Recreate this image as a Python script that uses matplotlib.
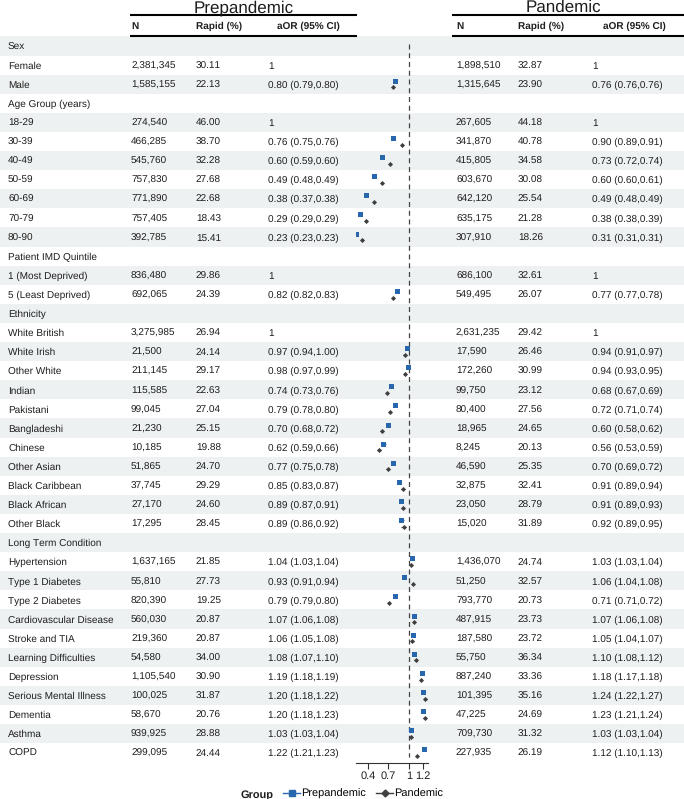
import matplotlib.pyplot as plt
from matplotlib.patches import Rectangle
from matplotlib.lines import Line2D
import numpy as np

plt.rcParams['font.family'] = ['Liberation Sans', 'DejaVu Sans']
plt.rcParams['text.hinting'] = 'no_hinting'
plt.rcParams['text.hinting_factor'] = 1

# table rows (None = group header row)
labels = ["Sex", "Female", "Male",
          "Age Group (years)", "18-29", "30-39", "40-49", "50-59", "60-69", "70-79", "80-90",
          "Patient IMD Quintile", "1 (Most Deprived)", "5 (Least Deprived)",
          "Ethnicity", "White British", "White Irish", "Other White", "Indian", "Pakistani",
          "Bangladeshi", "Chinese", "Other Asian", "Black Caribbean", "Black African", "Other Black",
          "Long Term Condition", "Hypertension", "Type 1 Diabetes", "Type 2 Diabetes",
          "Cardiovascular Disease", "Stroke and TIA", "Learning Difficulties", "Depression",
          "Serious Mental Illness", "Dementia", "Asthma", "COPD"]

pre_n = [None, 2381345, 1585155,
         None, 274540, 466285, 545760, 757830, 771890, 757405, 392785,
         None, 836480, 692065,
         None, 3275985, 21500, 211145, 115585, 99045, 21230, 10185, 51865, 37745, 27170, 17295,
         None, 1637165, 55810, 820390, 560030, 219360, 54580, 1105540, 100025, 58670, 939925, 299095]
pre_rapid = [None, 30.11, 22.13,
             None, 46.00, 38.70, 32.28, 27.68, 22.68, 18.43, 15.41,
             None, 29.86, 24.39,
             None, 26.94, 24.14, 29.17, 22.63, 27.04, 25.15, 19.88, 24.70, 29.29, 24.60, 28.45,
             None, 21.85, 27.73, 19.25, 20.87, 20.87, 34.00, 30.90, 31.87, 20.76, 28.88, 24.44]
pre_or = [None, 1, 0.80,
          None, 1, 0.76, 0.60, 0.49, 0.38, 0.29, 0.23,
          None, 1, 0.82,
          None, 1, 0.97, 0.98, 0.74, 0.79, 0.70, 0.62, 0.77, 0.85, 0.89, 0.89,
          None, 1.04, 0.93, 0.79, 1.07, 1.06, 1.08, 1.19, 1.20, 1.20, 1.03, 1.22]
pre_lo = [None, None, 0.79,
          None, None, 0.75, 0.59, 0.48, 0.37, 0.29, 0.23,
          None, None, 0.82,
          None, None, 0.94, 0.97, 0.73, 0.78, 0.68, 0.59, 0.75, 0.83, 0.87, 0.86,
          None, 1.03, 0.91, 0.79, 1.06, 1.05, 1.07, 1.18, 1.18, 1.18, 1.03, 1.21]
pre_hi = [None, None, 0.80,
          None, None, 0.76, 0.60, 0.49, 0.38, 0.29, 0.23,
          None, None, 0.83,
          None, None, 1.00, 0.99, 0.76, 0.80, 0.72, 0.66, 0.78, 0.87, 0.91, 0.92,
          None, 1.04, 0.94, 0.80, 1.08, 1.08, 1.10, 1.19, 1.22, 1.23, 1.04, 1.23]

pan_n = [None, 1898510, 1315645,
         None, 267605, 341870, 415805, 603670, 642120, 635175, 307910,
         None, 686100, 549495,
         None, 2631235, 17590, 172260, 99750, 80400, 18965, 8245, 46590, 32875, 23050, 15020,
         None, 1436070, 51250, 793770, 487915, 187580, 55750, 887240, 101395, 47225, 709730, 227935]
pan_rapid = [None, 32.87, 23.90,
             None, 44.18, 40.78, 34.58, 30.08, 25.54, 21.28, 18.26,
             None, 32.61, 26.07,
             None, 29.42, 26.46, 30.99, 23.12, 27.56, 24.65, 20.13, 25.35, 32.41, 28.79, 31.89,
             None, 24.74, 32.57, 20.73, 23.73, 23.72, 36.34, 33.36, 35.16, 24.69, 31.32, 26.19]
pan_or = [None, 1, 0.76,
          None, 1, 0.90, 0.73, 0.60, 0.49, 0.38, 0.31,
          None, 1, 0.77,
          None, 1, 0.94, 0.94, 0.68, 0.72, 0.60, 0.56, 0.70, 0.91, 0.91, 0.92,
          None, 1.03, 1.06, 0.71, 1.07, 1.05, 1.10, 1.18, 1.24, 1.23, 1.03, 1.12]
pan_lo = [None, None, 0.76,
          None, None, 0.89, 0.72, 0.60, 0.48, 0.38, 0.31,
          None, None, 0.77,
          None, None, 0.91, 0.93, 0.67, 0.71, 0.58, 0.53, 0.69, 0.89, 0.89, 0.89,
          None, 1.03, 1.04, 0.71, 1.06, 1.04, 1.08, 1.17, 1.22, 1.21, 1.03, 1.10]
pan_hi = [None, None, 0.76,
          None, None, 0.91, 0.74, 0.61, 0.49, 0.39, 0.31,
          None, None, 0.78,
          None, None, 0.97, 0.95, 0.69, 0.74, 0.62, 0.59, 0.72, 0.94, 0.93, 0.95,
          None, 1.04, 1.08, 0.72, 1.08, 1.07, 1.12, 1.18, 1.27, 1.24, 1.04, 1.13]

x_ticks = [0.4, 0.7, 1, 1.2]

BLUE = '#2866AE'
GREY = '#3F3F3F'
SHADE = '#EDF1F1'
TXT = '#1E1E1E'
FS = 7.3

W, H = 684, 799
ROW0, PITCH = 46, 19.1   # pixel centre of first row, row height


def fmt_or(e, lo, hi):
    if e is None:
        return ''
    if lo is None:
        return '1'
    return f'{e:.2f} ({lo:.2f},{hi:.2f})'


def py(p):
    # pixel y -> row units
    return (p - ROW0) / PITCH


def base(i):
    # baseline snapped to a whole pixel so every cell in a row lines up
    return py(round(ROW0 + PITCH * i + 3.7))


fig = plt.figure(figsize=(W / 100, H / 100), dpi=100)

# table axes: x in pixels, y in row units
tab = fig.add_axes([0, 0, 1, 1])
tab.set_xlim(0, W)
tab.set_ylim(py(H), py(0))
tab.axis('off')

kw = dict(fontsize=FS, va='baseline', color=TXT)
nrow = len(labels)
for i in range(nrow):
    if i % 2 == 0:
        tab.add_patch(Rectangle((0, i - 0.5), W, 1, color=SHADE, lw=0, zorder=0))
    yb = base(i)
    tab.text(8, yb, labels[i], **kw)
    if pre_n[i] is not None:
        tab.text(131, yb, f'{pre_n[i]:,}', **kw)
        tab.text(196, yb, f'{pre_rapid[i]:.2f}', **kw)
        tab.text(268, yb, fmt_or(pre_or[i], pre_lo[i], pre_hi[i]), **kw)
        tab.text(456, yb, f'{pan_n[i]:,}', **kw)
        tab.text(518, yb, f'{pan_rapid[i]:.2f}', **kw)
        tab.text(592, yb, fmt_or(pan_or[i], pan_lo[i], pan_hi[i]), **kw)

# spanner headers
for x0, x1, xc, title in [(130, 357, 244, 'Prepandemic'), (452, 684, 563, 'Pandemic')]:
    tab.text(xc, py(12), title, fontsize=12, ha='center', va='baseline', color=TXT)
    tab.plot([x0, x1], [py(15), py(15)], color='black', lw=1.5, solid_capstyle='butt')
    tab.plot([x0, x1], [py(35.5), py(35.5)], color='black', lw=1.5, solid_capstyle='butt')

for x, h in [(131, 'N'), (196, 'Rapid (%)'), (277, 'aOR (95% CI)'),
             (456, 'N'), (518, 'Rapid (%)'), (603, 'aOR (95% CI)')]:
    tab.text(x, py(29), h, fontsize=FS, fontweight='bold', va='baseline', color=TXT)

# forest plot
fx0, fx1 = 355.5, 427.5
fy0, fy1 = 36, 763
ax = fig.add_axes([fx0 / W, 1 - fy1 / H, (fx1 - fx0) / W, (fy1 - fy0) / H])
ax.patch.set_alpha(0)
ax.set_xlim(0.22, 1.27)
ax.set_ylim(py(fy1), py(fy0))
for s in ['top', 'left', 'right']:
    ax.spines[s].set_visible(False)
ax.spines['bottom'].set_color('#333333')
ax.spines['bottom'].set_linewidth(0.8)
ax.set_yticks([])
ax.set_xticks(x_ticks)
ax.set_xticklabels(['0.4', '0.7', '1', '1.2'])
ax.tick_params(axis='x', length=4, width=0.8, color='#333333', labelsize=FS + 0.3, pad=2, labelcolor=TXT)

ax.vlines(1, -0.1, py(757), colors='#444444', linestyles=(0, (4, 3)), lw=0.9)

rows = np.arange(nrow)
for est, lo, hi, off, mk, ms, col in [(pre_or, pre_lo, pre_hi, -0.18, 's', 3.6, BLUE),
                                      (pan_or, pan_lo, pan_hi, 0.17, 'D', 2.6, GREY)]:
    keep = [i for i in rows if lo[i] is not None]
    yy = [i + off for i in keep]
    ax.hlines(yy, [lo[i] for i in keep], [hi[i] for i in keep], colors=col, lw=0.8)
    ax.plot([est[i] for i in keep], yy, ls='none', marker=mk, ms=ms, color=col, mew=0)

# legend
tab.text(241, py(797.5), 'Group', fontsize=FS + 0.5, fontweight='bold', va='baseline', color=TXT)
handles = [Line2D([], [], color=BLUE, marker='s', ms=4.5, lw=1),
           Line2D([], [], color=GREY, marker='D', ms=3.5, lw=1)]
fig.legend(handles, ['Prepandemic', 'Pandemic'], loc='center left',
           bbox_to_anchor=(283 / W, 1 - 794 / H), ncol=2, frameon=False,
           fontsize=FS + 0.5, handlelength=1.6, handletextpad=0.1, columnspacing=0.9,
           borderaxespad=0, borderpad=0)

fig.savefig('out.png', dpi=100)
